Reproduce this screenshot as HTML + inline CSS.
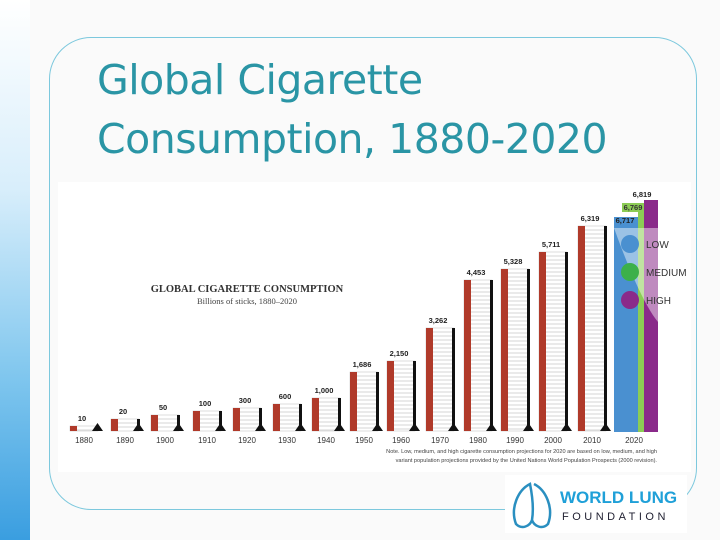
<!DOCTYPE html>
<html><head><style>
body{margin:0;width:720px;height:540px;overflow:hidden;background:#fafafa;position:relative;font-family:"Liberation Sans",sans-serif}
.strip{position:absolute;left:0;top:0;width:30px;height:540px;background:linear-gradient(#fff 0%,#d8eefb 35%,#7fc6ee 70%,#3a9ee0 100%)}
.box{position:absolute;left:49px;top:37px;width:648px;height:473px;border:1.5px solid #7cc8dd;border-radius:42px;box-sizing:border-box}
.t{position:absolute;left:97px;color:#2a95a5;font-size:41px;font-family:"DejaVu Sans","Liberation Sans",sans-serif;letter-spacing:-0.5px}
</style></head><body>
<div class="strip"></div>
<div class="box"></div>
<div class="t" style="top:56px">Global Cigarette</div>
<div class="t" style="top:115px">Consumption, 1880-2020</div>
<svg style="position:absolute;left:0;top:0" width="720" height="540">
<rect x="58" y="182" width="633" height="290" fill="#fff"/>
<rect x="505" y="475" width="182" height="58" fill="#fff"/>
<text x="247" y="292" font-family="Liberation Serif" font-weight="bold" font-size="10.5" text-anchor="middle" fill="#333">GLOBAL CIGARETTE CONSUMPTION</text>
<text x="247" y="304" font-family="Liberation Serif" font-size="8.5" text-anchor="middle" fill="#444">Billions of sticks, 1880–2020</text>
<g id="bars" font-family="Liberation Sans" font-size="8" text-anchor="middle" fill="#222"></g>
<rect x="614" y="217" width="25" height="215" fill="#4a90d0"/>
<rect x="638" y="207" width="7" height="225" fill="#8ccc55"/>
<rect x="644" y="200" width="14" height="232" fill="#8a2a8a"/>
<path d="M614 228 Q640 300 658 322 L658 228 Z" fill="#fff" opacity="0.45"/>
<rect x="622" y="203" width="22" height="9" fill="#8ccc55"/>
<text x="633" y="210" font-size="7.5" font-weight="bold" text-anchor="middle" fill="#333">6,769</text>
<text x="642" y="197" font-size="7.5" font-weight="bold" text-anchor="middle" fill="#222">6,819</text>
<text x="625" y="223" font-size="7.5" font-weight="bold" text-anchor="middle" fill="#222">6,717</text>
<circle cx="630" cy="244" r="9" fill="#4a90d0"/><circle cx="630" cy="272" r="9" fill="#3cb04a"/><circle cx="630" cy="300" r="9" fill="#8a2a8a"/>
<g font-size="10" fill="#333"><text x="646" y="248">LOW</text><text x="646" y="276">MEDIUM</text><text x="646" y="304">HIGH</text></g>
<text x="634" y="443" font-size="8" text-anchor="middle" fill="#333">2020</text>
<g font-size="5.6" fill="#444" text-anchor="end"><text x="657" y="453">Note. Low, medium, and high cigarette consumption projections for 2020 are based on low, medium, and high</text><text x="657" y="462">variant population projections provided by the United Nations World Population Prospects (2000 revision).</text></g>
<g transform="translate(508,478)">
<path d="M22 6 C10 12 2 30 8 46 C14 52 22 48 24 42 C26 30 24 16 22 6Z M26 6 C38 12 46 30 40 46 C34 52 26 48 24 42" fill="none" stroke="#2a8fc0" stroke-width="2.5"/>
<text x="52" y="25" font-size="17" font-weight="bold" fill="#1fa0d8">WORLD LUNG</text>
<text x="54" y="42" font-size="11" letter-spacing="3.5" fill="#223">FOUNDATION</text>
</g>
</svg>
<script>
var d=[[84,426,"10","1880"],[125,419,"20","1890"],[165,415,"50","1900"],[207,411,"100","1910"],[247,408,"300","1920"],[287,404,"600","1930"],[326,398,"1,000","1940"],[364,372,"1,686","1950"],[401,361,"2,150","1960"],[440,328,"3,262","1970"],[478,280,"4,453","1980"],[515,269,"5,328","1990"],[553,252,"5,711","2000"],[592,226,"6,319","2010"]];
var s="",B=431;
d.forEach(function(a){var x=a[0]-14,t=a[1],w=28;
s+='<rect x="'+x+'" y="'+t+'" width="'+w+'" height="'+(B-t)+'" fill="#fff" stroke="#bbb" stroke-width="0.5"/>';
for(var y=t+4;y<B;y+=4)s+='<line x1="'+x+'" x2="'+(x+w)+'" y1="'+y+'" y2="'+y+'" stroke="#c8c8c8" stroke-width="0.7"/>';
s+='<rect x="'+x+'" y="'+t+'" width="7" height="'+(B-t)+'" fill="#b03a2a"/>';
s+='<rect x="'+(x+w-2)+'" y="'+t+'" width="3" height="'+(B-t)+'" fill="#111"/>';
s+='<path d="M'+(x+w-6)+' '+B+' L'+(x+w-0.5)+' '+(B-8)+' L'+(x+w+5)+' '+B+'Z" fill="#111"/>';
s+='<text x="'+(a[0]-2)+'" y="'+(t-5)+'" font-size="7.5" font-weight="bold">'+a[2]+'</text>';
s+='<text x="'+a[0]+'" y="443" fill="#333">'+a[3]+'</text>';});
document.getElementById("bars").innerHTML=s;
</script>
</body></html>
